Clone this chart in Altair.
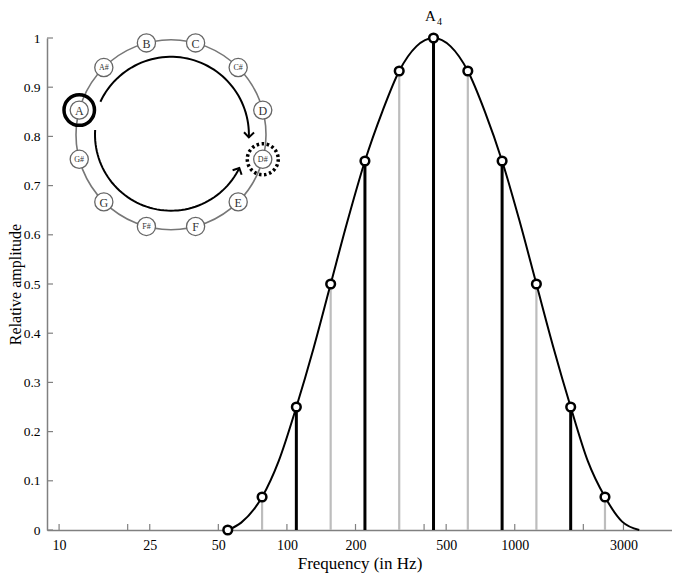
import altair as alt
import pandas as pd
import numpy as np

# ---- data ----
note_freqs = [55, 77.8, 110, 155.6, 220, 311.1, 440, 622.3, 880, 1244.5, 1760, 2489]
note_amps = [0.0, 0.067, 0.25, 0.5, 0.75, 0.933, 1.0, 0.933, 0.75, 0.5, 0.25, 0.067]
note_kind = ["A", "D#"] * 6

curve_freqs = [55, 63, 77.8, 92, 110, 131, 155.6, 185, 220, 262, 311.1, 370, 440,
               523, 622.3, 740, 880, 1047, 1244.5, 1480, 1760, 2093, 2489, 2960, 3520]
curve_amps = [0.0, 0.015, 0.067, 0.14, 0.25, 0.37, 0.5, 0.63, 0.75, 0.85, 0.933, 0.983, 1.0,
              0.983, 0.933, 0.85, 0.75, 0.63, 0.5, 0.37, 0.25, 0.14, 0.067, 0.017, 0.0]

x_tick_values = [10, 20, 25, 50, 100, 200, 400, 500, 1000, 2000, 3000]
x_label_values = [10, 25, 50, 100, 200, 500, 1000, 3000]
y_tick_values = [0, 0.1, 0.2, 0.3, 0.4, 0.5, 0.6, 0.7, 0.8, 0.9, 1.0]

circle_notes = ["B", "C", "C#", "D", "D#", "E", "F", "F#", "G", "G#", "A", "A#"]

FONT = "Liberation Serif"
W, H = 625, 492
AX = "#808080"
X_MIN, X_MAX = 8.85, 4900

notes_df = pd.DataFrame({"f": note_freqs, "a": note_amps, "kind": note_kind})
curve_df = pd.DataFrame({"f": curve_freqs, "a": curve_amps, "i": range(len(curve_freqs))})

xscale = alt.Scale(type="log", domain=[X_MIN, X_MAX], nice=False)
yscale = alt.Scale(domain=[0, 1], nice=False)

xaxis = alt.Axis(values=x_label_values, ticks=False, grid=False, domainColor=AX, domainWidth=1.5,
                 format="d", labelFont=FONT, labelFontSize=14, labelColor="black", labelPadding=8,
                 title="Frequency (in Hz)", titleFont=FONT, titleFontSize=17,
                 titleFontWeight="normal", titleColor="black", titlePadding=3, labelFlush=False)
yaxis = alt.Axis(values=y_tick_values, ticks=False, grid=False, domainColor=AX, domainWidth=1.5,
                 format="~g", labelFont=FONT, labelFontSize=13.5, labelColor="black", labelPadding=7,
                 title="Relative amplitude", titleFont=FONT, titleFontSize=16,
                 titleFontWeight="normal", titleColor="black", titleX=-24, titleY=H / 2,
                 labelFlush=False)

base = alt.Chart(notes_df)

a_lines = base.transform_filter(alt.datum.kind == "A").mark_rule(color="black", strokeWidth=3).encode(
    x=alt.X("f:Q", scale=xscale, axis=xaxis),
    y=alt.Y("a:Q", scale=yscale, axis=yaxis),
    y2=alt.datum(0),
)
d_lines = base.transform_filter(alt.datum.kind == "D#").mark_rule(color="#bdbdbd", strokeWidth=2.2).encode(
    x=alt.X("f:Q", scale=xscale, axis=xaxis),
    y=alt.Y("a:Q", scale=yscale, axis=yaxis),
    y2=alt.datum(0),
)
curve = alt.Chart(curve_df).mark_line(color="black", strokeWidth=2, interpolate="monotone").encode(
    x=alt.X("f:Q", scale=xscale, axis=xaxis),
    y=alt.Y("a:Q", scale=yscale, axis=yaxis),
    order="i:Q",
)
points = base.mark_point(shape="circle", size=75, filled=False, fill="white", fillOpacity=1,
                         stroke="black", strokeWidth=2.5, opacity=1).encode(
    x=alt.X("f:Q", scale=xscale, axis=xaxis),
    y=alt.Y("a:Q", scale=yscale, axis=yaxis),
)
xticks = alt.Chart(pd.DataFrame({"f": x_tick_values})).mark_rule(color=AX, strokeWidth=1.2).encode(
    x=alt.X("f:Q", scale=xscale, axis=xaxis),
    y=alt.value(H),
    y2=alt.value(H - 6),
)
# inward y ticks: short horizontal strokes drawn as a custom symbol
ytick_df = pd.DataFrame({"a": y_tick_values, "f": [X_MIN] * len(y_tick_values)})
yticks = alt.Chart(ytick_df).mark_point(
    shape="M0,0L1,0", size=144, filled=False, stroke=AX, strokeWidth=1.2, opacity=1
).encode(
    x=alt.X("f:Q", scale=xscale, axis=xaxis),
    y=alt.Y("a:Q", scale=yscale, axis=yaxis),
)
peak_df = pd.DataFrame({"f": [440], "a": [1.0]})
peak_a = alt.Chart(peak_df).mark_text(text="A", font=FONT, fontSize=15, dy=-22, dx=-3,
                                      color="black").encode(
    x=alt.X("f:Q", scale=xscale, axis=xaxis), y=alt.Y("a:Q", scale=yscale, axis=yaxis))
peak_4 = alt.Chart(peak_df).mark_text(text="4", font=FONT, fontSize=10, dy=-16, dx=6,
                                      color="black").encode(
    x=alt.X("f:Q", scale=xscale, axis=xaxis), y=alt.Y("a:Q", scale=yscale, axis=yaxis))

main = alt.layer(d_lines, a_lines, curve, points, xticks, yticks, peak_a, peak_4)

# ---- inset: chromatic circle (unit-circle coordinates) ----
R_PX = 95.0
cx_px, cy_px = 124.0, 96.7
ixs = alt.Scale(domain=[-cx_px / R_PX, (W - cx_px) / R_PX], nice=False, zero=False)
iys = alt.Scale(domain=[-(H - cy_px) / R_PX, cy_px / R_PX], nice=False, zero=False)

ang = np.deg2rad(np.arange(12) * 30 - 15)
circ_df = pd.DataFrame({
    "note": circle_notes,
    "x": np.sin(ang),
    "y": np.cos(ang),
    "sharp": ["#" in n for n in circle_notes],
})

ring = alt.Chart(pd.DataFrame({"x": [0.0], "y": [0.0]})).mark_point(
    shape="circle", size=(2 * R_PX) ** 2, filled=False, stroke="#777777", strokeWidth=1.6, opacity=1
).encode(x=alt.X("x:Q", scale=ixs, axis=None), y=alt.Y("y:Q", scale=iys, axis=None))

note_circles = alt.Chart(circ_df).mark_point(
    shape="circle", size=330, filled=False, fill="white", fillOpacity=1, stroke="#666666",
    strokeWidth=1.3, opacity=1
).encode(x=alt.X("x:Q", scale=ixs, axis=None), y=alt.Y("y:Q", scale=iys, axis=None))

nat_labels = alt.Chart(circ_df).transform_filter(~alt.datum.sharp).mark_text(
    font=FONT, fontSize=12, color="#333333", baseline="middle", dy=1
).encode(x=alt.X("x:Q", scale=ixs, axis=None), y=alt.Y("y:Q", scale=iys, axis=None), text="note:N")

sharp_labels = alt.Chart(circ_df).transform_filter(alt.datum.sharp).mark_text(
    font=FONT, fontSize=8, color="#333333", baseline="middle", dy=0.5
).encode(x=alt.X("x:Q", scale=ixs, axis=None), y=alt.Y("y:Q", scale=iys, axis=None), text="note:N")

hl = circ_df[circ_df.note.isin(["A", "D#"])].copy()
a_ring = alt.Chart(hl[hl.note == "A"]).mark_point(
    shape="circle", size=930, filled=False, stroke="black", strokeWidth=3.5, opacity=1
).encode(x=alt.X("x:Q", scale=ixs, axis=None), y=alt.Y("y:Q", scale=iys, axis=None))
d_ring = alt.Chart(hl[hl.note == "D#"]).mark_point(
    shape="circle", size=960, filled=False, stroke="black", strokeWidth=3.5, opacity=1,
    strokeDash=[2.5, 2.6]
).encode(x=alt.X("x:Q", scale=ixs, axis=None), y=alt.Y("y:Q", scale=iys, axis=None))

# arrows: arcs around the centre
up_t = np.deg2rad(np.linspace(295, 452, 60))
lo_t = np.deg2rad(np.linspace(273.5, 116, 60))
up_r, lo_r = 0.82, 0.80
arc_df = pd.concat([
    pd.DataFrame({"x": up_r * np.sin(up_t), "y": up_r * np.cos(up_t), "arc": "up", "i": range(60)}),
    pd.DataFrame({"x": lo_r * np.sin(lo_t), "y": lo_r * np.cos(lo_t), "arc": "lo", "i": range(60)}),
])
arcs = alt.Chart(arc_df).mark_line(color="black", strokeWidth=2).encode(
    x=alt.X("x:Q", scale=ixs, axis=None), y=alt.Y("y:Q", scale=iys, axis=None),
    detail="arc:N", order="i:Q")

heads_df = pd.DataFrame({
    "x": [up_r * np.sin(up_t[-1]), lo_r * np.sin(lo_t[-1])],
    "y": [up_r * np.cos(up_t[-1]), lo_r * np.cos(lo_t[-1])],
    "ang": [182, 26],
})
heads = alt.Chart(heads_df).mark_point(
    shape="M-1,1L0,0L1,1", size=100, filled=False, stroke="black", strokeWidth=2, opacity=1
).encode(x=alt.X("x:Q", scale=ixs, axis=None), y=alt.Y("y:Q", scale=iys, axis=None),
         angle=alt.Angle("ang:Q", scale=None))

inset = alt.layer(ring, arcs, heads, note_circles, nat_labels, sharp_labels, a_ring, d_ring)

chart = alt.layer(main, inset).resolve_scale(x="independent", y="independent").properties(
    width=W, height=H,
    background="white",
    autosize=alt.AutoSizeParams(type="none"),
    padding={"left": 39, "top": 30, "right": 0, "bottom": 47},
).configure_view(stroke=None).configure_axis(grid=False)

chart.save("out.html", embed_options={"renderer": "svg", "actions": False})
